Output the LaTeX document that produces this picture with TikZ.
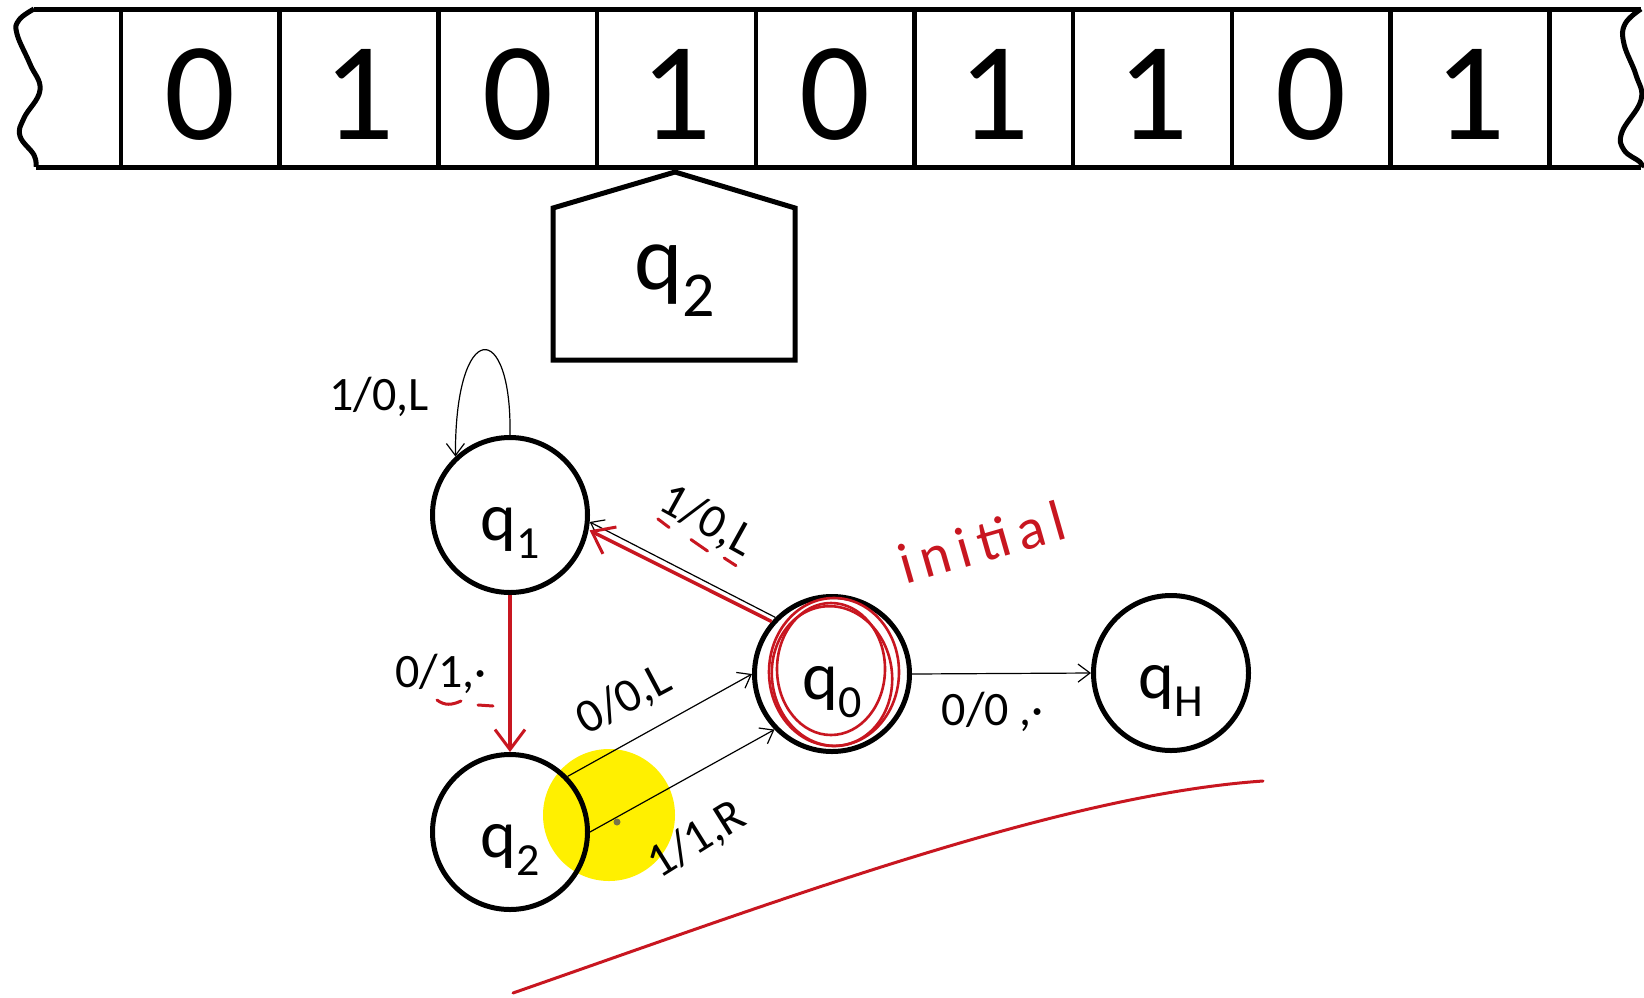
\documentclass[tikz,border=0pt]{standalone}
\usepackage{fontspec}
\setmainfont{Carlito}
\usetikzlibrary{arrows.meta}
\definecolor{pen}{RGB}{200,22,32}
\definecolor{hl}{RGB}{255,240,0}
\newcommand\stq[1]{q\raisebox{-0.27em}{\fontsize{46}{46}\selectfont #1}}
\newcommand\hdq[1]{q\raisebox{-0.3em}{\fontsize{64}{64}\selectfont #1}}
\begin{document}
\begin{tikzpicture}[x=1pt,y=-1pt,
  state/.style={circle,draw,line width=5pt,minimum size=155pt,inner sep=0pt,
    text height=50pt,text depth=0pt,font=\fontsize{68}{68}\selectfont},
  cell/.style={font=\fontsize{140}{140}\selectfont,inner sep=0pt,anchor=base},
  elabel/.style={font=\fontsize{48}{48}\selectfont,inner sep=0pt},
  edge/.style={line width=1.2pt,-{Straight Barb[length=12pt,width=18pt,line width=1.2pt]}},
  redge/.style={draw=pen,line width=3.5pt,-{Straight Barb[length=20pt,width=30pt,line width=3pt]}},
  redink/.style={draw=pen,line width=3pt,line cap=round},
  tapeline/.style={line width=5pt,line join=round}]
\fill[white] (0,0) rectangle (1644,997);
\useasboundingbox (0,0) rectangle (1644,997);

% tape
\draw[tapeline] (34,9) -- (1641,9);
\draw[tapeline] (36,167) -- (1641,167);
\draw[tapeline] plot[smooth,tension=0.7] coordinates {(34,9) (19,20) (17,34) (30,64) (40,90) (24,118) (20,136) (34,155) (36,167)};
\draw[tapeline] plot[smooth,tension=0.7] coordinates {(1641,9) (1625,24) (1624,44) (1636,75) (1641,100) (1622,132) (1624,150) (1640,162) (1641,167)};
\foreach \i in {0,...,9}
  \draw[line width=4.5pt] (121+158.7*\i,9) -- (121+158.7*\i,167);
\foreach \d [count=\i from 0] in {0,1,0,1,0,1,1,0,1}
  \node[cell] (c\i) at (121+158.7*\i+79.35,139) {\d};

% head
\draw[line width=5pt,line join=miter] (553,208) -- (675,172) -- (795,208) -- (795,360) -- (553,360) -- cycle;
\node[font=\fontsize{92}{92}\selectfont,inner sep=0pt,anchor=base] (head) at (675,289) {\hdq{2}};

% yellow highlight
\fill[hl] (609,815) circle (66);

% states
\node[state] (q1) at (510,515) {\stq{1}};
\node[state] (q0) at (832,674) {\stq{0}};
\node[state] (qH) at (1171,673) {\stq{H}};
\node[state] (q2) at (510,832) {\stq{2}};

% edges
\draw[edge] (q1.90) .. controls (512,318) and (455,318) .. (q1.133);
\node[elabel] (l1) at (379,397) {1/0,L};

\draw[edge] (q0.135) -- (q1.-5);
\draw[redge] (q0.139) -- ([yshift=-7pt]q1.-6);
\node[elabel,rotate=-29] (l2) at (707,521) {1/0,L};
\begin{scope}[shift={(l2.center)},rotate=-29]
  \draw[redink] (-44,22) -- (-30,24);
  \draw[redink] (-5,24) -- (15,26);
  \draw[redink] (33,24) -- (47,25);
\end{scope}

\draw[redge] (q1.south) -- (q2.north);
\node[elabel] (l3) at (441,674) {0/1,·};
\draw[redink] (437,700) .. controls (445,706) and (452,705) .. (461,701);
\draw[redink] (478,705) -- (493,706);

\draw[edge] (q2.44) -- (q0.180);
\node[elabel,rotate=28] (l4) at (624,700) {0/0,L};

\draw[edge] (q2.0) -- (q0.224);
\node[elabel,rotate=32] (l5) at (697,840) {1/1,R};
\fill[black!60!yellow] (617,822) circle (3.5);

\draw[edge] (q0.0) -- (qH.180);
\node[elabel] (l6) at (993,712) {0/0 ,·};

% red annotations
\draw[redink,line width=2.6pt] (834,672) ellipse [x radius=65, y radius=74];
\draw[redink,line width=2.6pt] (831,669) ellipse [x radius=54, y radius=66];
\draw[redink,line width=2.6pt,rotate around={8:(832,676)}] (832,676) ellipse [x radius=60, y radius=70];
\node[text=pen,rotate=16,inner sep=0pt,font=\fontsize{58}{58}\selectfont\addfontfeatures{LetterSpace=14}] (init) at (982,542) {initial};
\draw[redink] (513,993) .. controls (780,900) and (1060,795) .. (1263,781);
\end{tikzpicture}
\end{document}
